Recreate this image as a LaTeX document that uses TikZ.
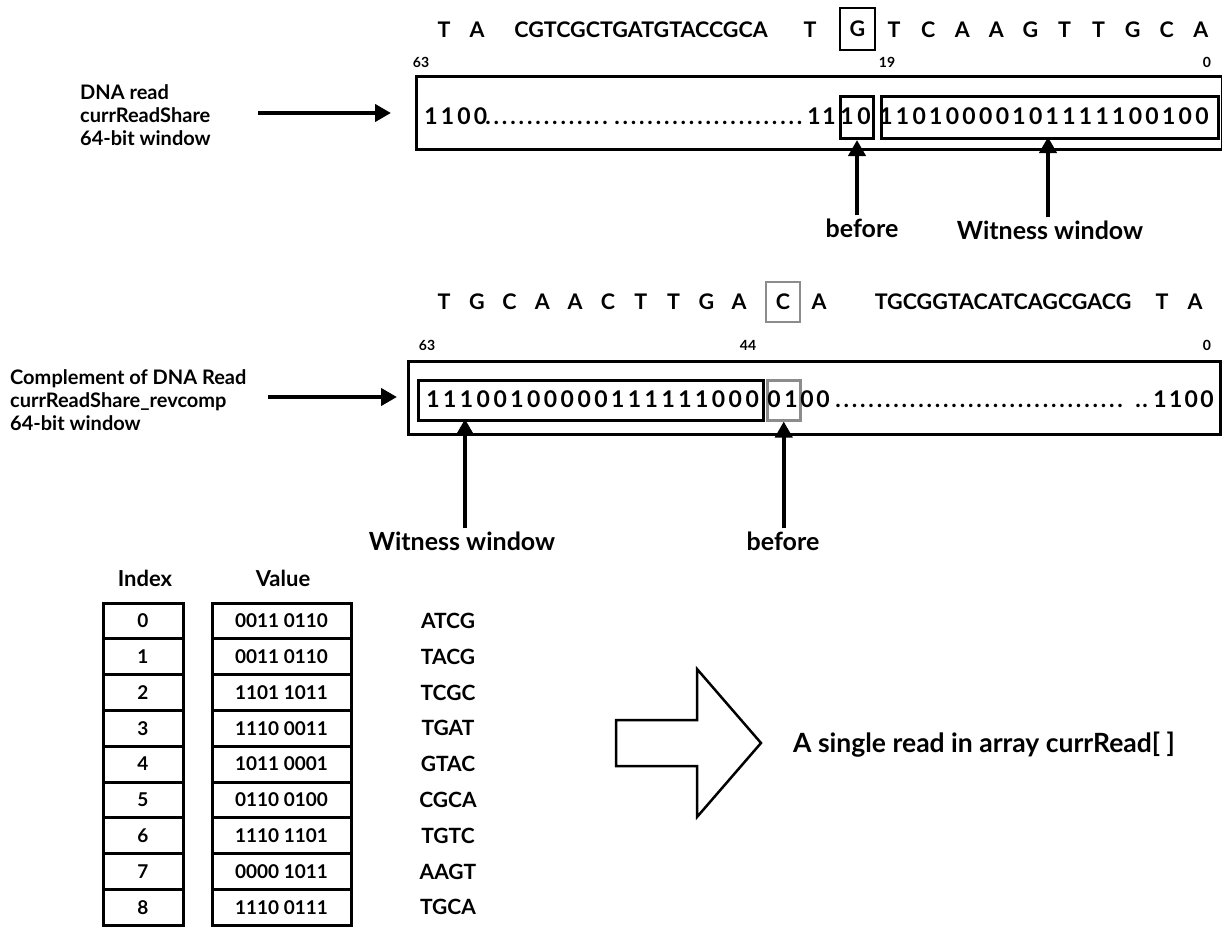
\documentclass[tikz,border=0pt]{standalone}
\usepackage{fontspec}
\setmainfont{Lato}
\usetikzlibrary{arrows.meta}
\tikzset{
  fs/.style={font=\bfseries\fontsize{#1}{#1}\selectfont},
  seqch/.style={fs=21.5, inner sep=0pt},
  bitch/.style={fs=23, inner sep=0pt, anchor=base},
  posnum/.style={fs=14, inner sep=0pt},
  lab/.style={font=\bfseries\fontsize{20}{23}\selectfont, align=left, anchor=west, inner sep=0pt},
  callout/.style={fs=25, inner sep=0pt},
  frame/.style={draw, line width=3pt, inner sep=0pt, anchor=north west},
  grayframe/.style={draw=black!45, line width=2.5pt, inner sep=0pt, anchor=north west},
  arr/.style={line width=4pt, -{Triangle[length=16pt,width=17pt]}},
  cell/.style={draw, line width=3pt, minimum width=80pt, minimum height=35.8pt, inner sep=0pt, fs=19},
}
\begin{document}
\begin{tikzpicture}[x=1pt,y=-1pt]
\useasboundingbox (0,0) rectangle (1222,926);

% ---------------- top read ----------------
\node[seqch] (tT1) at (444,30) {T};
\node[seqch] (tA1) at (477,30) {A};
\node[seqch] (tstr) at (641,30) {CGTCGCTGATGTACCGCA};
\node[seqch] (tT2) at (810,30) {T};
\node[seqch, draw, line width=2pt, minimum width=35pt, minimum height=42pt] (tG) at (857.5,29) {G};
\foreach \c [count=\i from 0] in {T,C,A,A,G,T,T,G,C,A}
  \node[seqch] (ts\i) at ({894+34.1*\i},30) {\c};

\node[posnum] (tn63) at (421,62) {63};
\node[posnum] (tn19) at (887,62) {19};
\node[posnum] (tn0) at (1207,62) {0};

\node[frame, minimum width=806pt, minimum height=73pt] (box1) at (415,75) {};
\node[frame, minimum width=33pt, minimum height=42pt] (tbef) at (839,95) {};
\node[frame, minimum width=337pt, minimum height=42pt] (twit) at (880,95) {};

\foreach \c [count=\i from 0] in {1,1,0,0}
  \node[bitch] (tl\i) at ({431+16.5*\i},124) {\c};
\foreach \k in {0,...,14}
  \node[bitch] (td\k) at ({488+8.36*\k},124) {.};
\foreach \k in {0,...,22}
  \node[bitch] (te\k) at ({617+8.3*\k},124) {.};
\node[bitch] (tp1) at (814,124) {1};
\node[bitch] (tp2) at (829,124) {1};
\node[bitch] (tb1) at (847,124) {1};
\node[bitch] (tb2) at (864,124) {0};
\foreach \c [count=\i from 0] in {1,1,0,1,0,0,0,0,1,0,1,1,1,1,1,0,0,1,0,0}
  \node[bitch] (tw\i) at ({886+16.63*\i},124) {\c};

\node[lab] (lab1) at (80,115) {DNA read\\currReadShare\\64-bit window};
\coordinate (a1s) at (258,113);
\draw[arr, shorten >=24pt] (a1s) -- (a1s -| box1.west);

\node[callout] (tbefl) at (862,228) {before};
\node[callout] (twitl) at (1050,230) {Witness window};
\coordinate (twa) at (1048,137);
\draw[arr, shorten <=3pt] (tbef.south |- tbefl.north) -- (tbef.south);
\draw[arr, shorten <=3pt] (twa |- twitl.north) -- (twa);

% ---------------- complement read ----------------
\foreach \c [count=\i from 0] in {T,G,C,A,A,C,T,T,G,A}
  \node[seqch] (ms\i) at ({444+32.8*\i},302) {\c};
\node[seqch, draw=black!45, line width=2pt, minimum width=34pt, minimum height=40pt] (mC) at (783,302) {C};
\node[seqch] (mA1) at (819,302) {A};
\node[seqch] (mstr) at (1003,302) {TGCGGTACATCAGCGACG};
\node[seqch] (mT2) at (1162,302) {T};
\node[seqch] (mA2) at (1195,302) {A};

\node[posnum] (mn63) at (427,345) {63};
\node[posnum] (mn44) at (748,345) {44};
\node[posnum] (mn0) at (1207,345) {0};

\node[frame, minimum width=812pt, minimum height=73pt] (box2) at (407,360) {};
\node[frame, minimum width=345pt, minimum height=40pt] (mwit) at (417,379) {};
\node[grayframe, minimum width=33pt, minimum height=40pt] (mbef) at (766,379) {};

\foreach \c [count=\i from 0] in {1,1,1,0,0,1,0,0,0,0,0,1,1,1,1,1,1,0,0,0}
  \node[bitch] (mw\i) at ({433+16.8*\i},407) {\c};
\node[bitch] (mb1) at (774,407) {0};
\node[bitch] (mb2) at (791,407) {1};
\node[bitch] (mz1) at (807,407) {0};
\node[bitch] (mz2) at (823,407) {0};
\foreach \k in {0,...,34}
  \node[bitch] (md\k) at ({838+8.3*\k},407) {.};
\foreach \k in {0,...,1}
  \node[bitch] (me\k) at ({1138+7*\k},407) {.};
\foreach \c [count=\i from 0] in {1,1,0,0}
  \node[bitch] (mr\i) at ({1160+15.7*\i},407) {\c};

\node[lab] (lab2) at (10,400) {Complement of DNA Read\\currReadShare\_revcomp\\64-bit window};
\coordinate (a2s) at (268,397);
\draw[arr, shorten >=10pt] (a2s) -- (a2s -| box2.west);

\node[callout] (mwitl) at (462,541) {Witness window};
\node[callout] (mbefl) at (783,541) {before};
\coordinate (mwa) at (465,419);
\draw[arr, shorten <=3pt] (mwa |- mwitl.north) -- (mwa);
\draw[arr, shorten <=3pt] (mbef.south |- mbefl.north) -- (mbef.south);

% ---------------- table ----------------
\node[fs=22, inner sep=0pt] (hidx) at (145,578) {Index};
\node[fs=22, inner sep=0pt] (hval) at (283,578) {Value};
\foreach \v/\s [count=\i from 0] in {0011 0110/ATCG, 0011 0110/TACG, 1101 1011/TCGC, 1110 0011/TGAT, 1011 0001/GTAC, 0110 0100/CGCA, 1110 1101/TGTC, 0000 1011/AAGT, 1110 0111/TGCA}
{
  \node[cell] (idx\i) at (143,{603+35.8*(\i+0.5)}) {\i};
  \node[cell, minimum width=139pt] (val\i) at (281.5,{603+35.8*(\i+0.5)}) {\v};
  \node[fs=21, inner sep=0pt] (sq\i) at (448,{603+35.8*(\i+0.5)}) {\s};
}

% ---------------- big arrow ----------------
\draw[line width=2.5pt, line join=miter] (616,720) -- (697,720) -- (697,669) -- (761,743) -- (697,817) -- (697,766) -- (616,766) -- cycle;
\node[callout, anchor=west, fs=26.5] (single) at (793,745) {A single read in array currRead[ ]};
\end{tikzpicture}
\end{document}
